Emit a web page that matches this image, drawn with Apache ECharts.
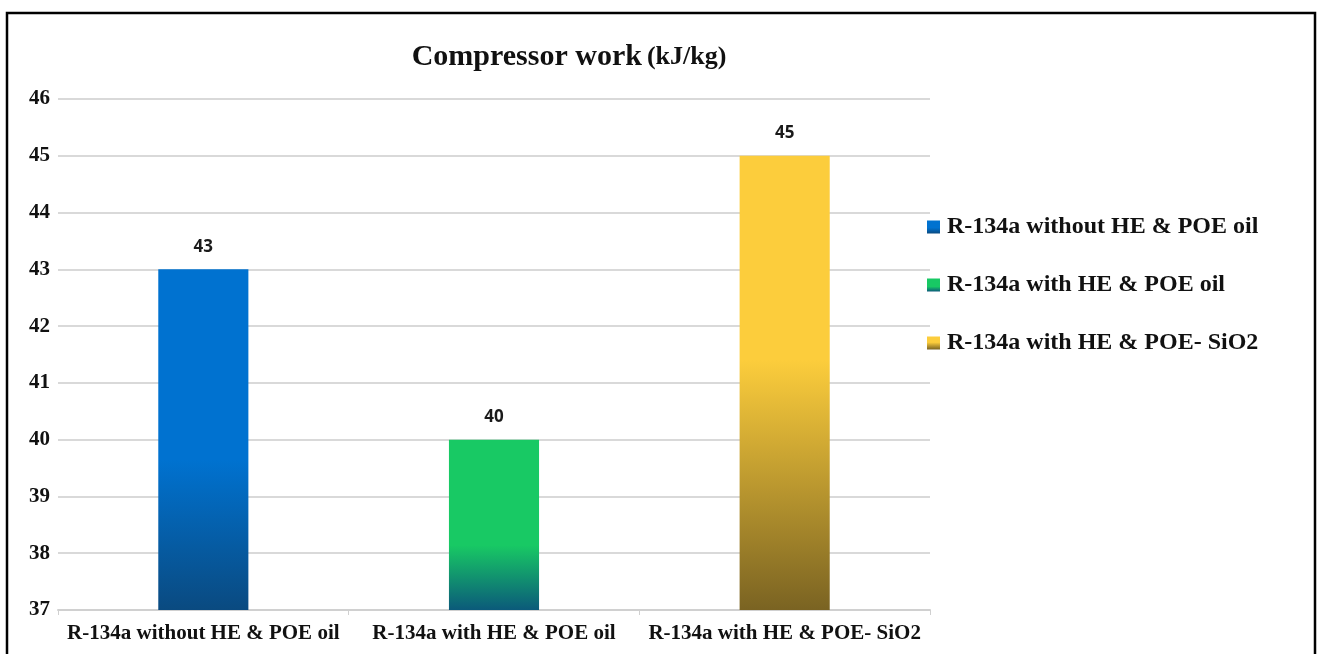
<!DOCTYPE html>
<html>
<head>
<meta charset="utf-8">
<script src="https://cdn.jsdelivr.net/npm/echarts@6/dist/echarts.min.js"></script>
<style>
  html, body { margin: 0; padding: 0; background: #fff; }
  #chart { width: 1317px; height: 654px; }
</style>
</head>
<body>
<div id="chart"></div>
<script>
// Compressor work for three refrigerant / oil configurations
const categories = [
  'R-134a without HE & POE oil',
  'R-134a with HE & POE oil',
  'R-134a with HE & POE- SiO2'
];
const workValues = [43, 40, 45];
const yTicks = [37, 38, 39, 40, 41, 42, 43, 44, 45, 46];

// top colour, where the fade starts, bottom colour
const fills = [
  ['#0072d0', 0.56, '#0a4a80'],
  ['#18c964', 0.62, '#0b5a7a'],
  ['#fccd3c', 0.45, '#7a6322']
];

const serif = '"Liberation Serif", "DejaVu Serif", serif';

function grad(f) {
  return new echarts.graphic.LinearGradient(0, 0, 0, 1, [
    { offset: 0, color: f[0] },
    { offset: f[1], color: f[0] },
    { offset: 1, color: f[2] }
  ]);
}

const series = categories.map((name, i) => ({
  name: name,
  type: 'bar',
  barWidth: '31%',
  barGap: '-100%',
  data: categories.map((c, j) => (j === i ? workValues[j] : '-')),
  itemStyle: { color: grad(fills[i]) },
  label: {
    show: true,
    position: 'top',
    distance: 14,
    color: '#1a1a1a',
    fontFamily: '"Open Sans", "Noto Sans", sans-serif',
    fontWeight: 'bold',
    fontSize: 17
  }
}));

const chart = echarts.init(document.getElementById('chart'), null, { renderer: 'canvas' });
chart.setOption({
  backgroundColor: '#ffffff',
  animation: false,
  title: {
    text: '{a|Compressor work} {b|(kJ/kg)}',
    left: 564,
    textAlign: 'center',
    top: 37,
    textStyle: {
      rich: {
        a: { fontFamily: serif, fontWeight: 'bold', fontSize: 30, color: '#111' },
        b: { fontFamily: serif, fontWeight: 'bold', fontSize: 26, color: '#111' }
      }
    }
  },
  graphic: [{
    type: 'rect',
    shape: { x: 7, y: 13, width: 1308, height: 660 },
    style: { fill: 'none', stroke: '#000', lineWidth: 2.5 },
    silent: true,
    z: 100
  }],
  legend: {
    orient: 'vertical',
    left: 922,
    top: 210,
    itemWidth: 13,
    itemHeight: 13,
    itemGap: 34,
    icon: 'rect',
    data: categories,
    textStyle: {
      fontFamily: serif,
      fontWeight: 'bold',
      fontSize: 24,
      color: '#111',
      padding: [0, 0, 0, 2]
    }
  },
  grid: {
    left: 58,
    right: 387,
    top: 99,
    bottom: 44,
    containLabel: false
  },
  xAxis: {
    type: 'category',
    data: categories,
    axisLine: { show: true, lineStyle: { color: '#d0d0d0', width: 2 } },
    axisTick: { show: true, length: 5, lineStyle: { color: '#d0d0d0', width: 1 } },
    axisLabel: {
      interval: 0,
      margin: 13,
      fontFamily: serif,
      fontWeight: 'bold',
      fontSize: 21,
      color: '#111'
    }
  },
  yAxis: {
    type: 'value',
    min: yTicks[0],
    max: yTicks[yTicks.length - 1],
    interval: 1,
    axisLine: { show: false },
    axisTick: { show: false },
    splitLine: { lineStyle: { color: '#d9d9d9', width: 2 } },
    axisLabel: {
      margin: 8,
      fontFamily: serif,
      fontWeight: 'bold',
      fontSize: 21,
      color: '#111'
    }
  },
  series: series
});
</script>
</body>
</html>
